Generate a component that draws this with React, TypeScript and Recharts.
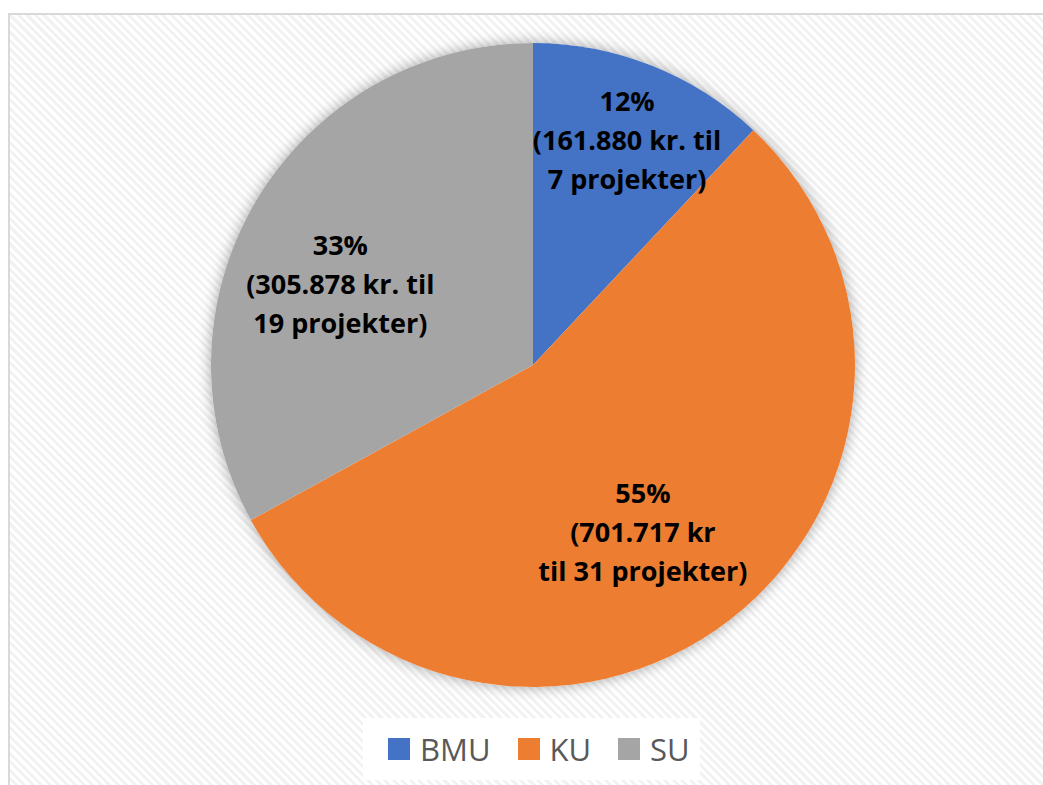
import React from 'react';
import { PieChart, Pie, Cell, Legend } from 'recharts';

const categories = ['BMU', 'KU', 'SU'];
const sharePct = [12, 55, 33];
const labelLine2 = ['(161.880 kr. til', '(701.717 kr', '(305.878 kr. til'];
const labelLine3 = ['7 projekter)', 'til 31 projekter)', '19 projekter)'];
const colors = ['#4472C4', '#ED7D31', '#A5A5A5'];

const data = categories.map((name, i) => ({ name, value: sharePct[i] }));

// label placement styling (radius factor, angle shift in degrees)
const labelRadius = [0.76, 0.62, 0.65];
const labelShift = [-1, -4.4, 7.6];

const RAD = Math.PI / 180;

const renderLabel = (props: any) => {
  const { cx, cy, midAngle, outerRadius, index } = props;
  const r = outerRadius * labelRadius[index];
  const a = (midAngle + labelShift[index]) * RAD;
  const x = cx + r * Math.cos(-a);
  const y = cy + r * Math.sin(-a);
  const lines = [`${sharePct[index]}%`, labelLine2[index], labelLine3[index]];
  return (
    <text
      x={x}
      y={y}
      textAnchor="middle"
      fill="#000"
      fontFamily="'Open Sans', sans-serif"
      fontWeight={700}
      fontSize={27}
    >
      {lines.map((l, k) => (
        <tspan key={k} x={x} y={y + (k - 1) * 39} dominantBaseline="central">
          {l}
        </tspan>
      ))}
    </text>
  );
};

const renderLegend = () => (
  <div
    style={{
      background: '#fff',
      height: 62,
      display: 'flex',
      alignItems: 'center',
      paddingLeft: 25,
      fontFamily: "'Open Sans', sans-serif",
      fontSize: 31,
      color: '#595959',
      boxSizing: 'border-box',
    }}
  >
    {categories.map((c, i) => (
      <div key={c} style={{ display: 'flex', alignItems: 'center', marginRight: 27 }}>
        <div style={{ width: 22, height: 22, background: colors[i], marginRight: 10 }} />
        <span style={{ lineHeight: '31px' }}>{c}</span>
      </div>
    ))}
  </div>
);

export default function App() {
  return (
    <div>
      <style>{`.pie-shadow path{filter: drop-shadow(0 0 7px rgba(0,0,0,0.35));}`}</style>
      <div
        style={{
          position: 'fixed',
          left: 8,
          top: 13,
          width: 1033,
          height: 770,
          borderLeft: '2px solid #d9d9d9',
          borderTop: '2px solid #d9d9d9',
          background:
            'repeating-linear-gradient(45deg, #ffffff 0px, #ffffff 3px, #f2f2f2 3px, #f2f2f2 6px)',
        }}
      >
        <PieChart width={1033} height={770} margin={{ top: 0, right: 0, bottom: 0, left: 0 }}>
          <Pie
            className="pie-shadow"
            data={[{ name: 'bg', value: 1 }]}
            dataKey="value"
            cx={523}
            cy={350}
            outerRadius={322}
            startAngle={90}
            endAngle={-270}
            fill="#ffffff"
            stroke="none"
            isAnimationActive={false}
            legendType="none"
          />
          <Pie
            data={data}
            dataKey="value"
            nameKey="name"
            cx={523}
            cy={350}
            outerRadius={322}
            startAngle={90}
            endAngle={-270}
            stroke="none"
            label={renderLabel}
            labelLine={false}
            isAnimationActive={false}
          >
            {data.map((d, i) => (
              <Cell key={d.name} fill={colors[i]} />
            ))}
          </Pie>
          <Legend
            content={renderLegend}
            wrapperStyle={{ position: 'absolute', left: 353, top: 703, width: 337, height: 62 }}
          />
        </PieChart>
      </div>
    </div>
  );
}
